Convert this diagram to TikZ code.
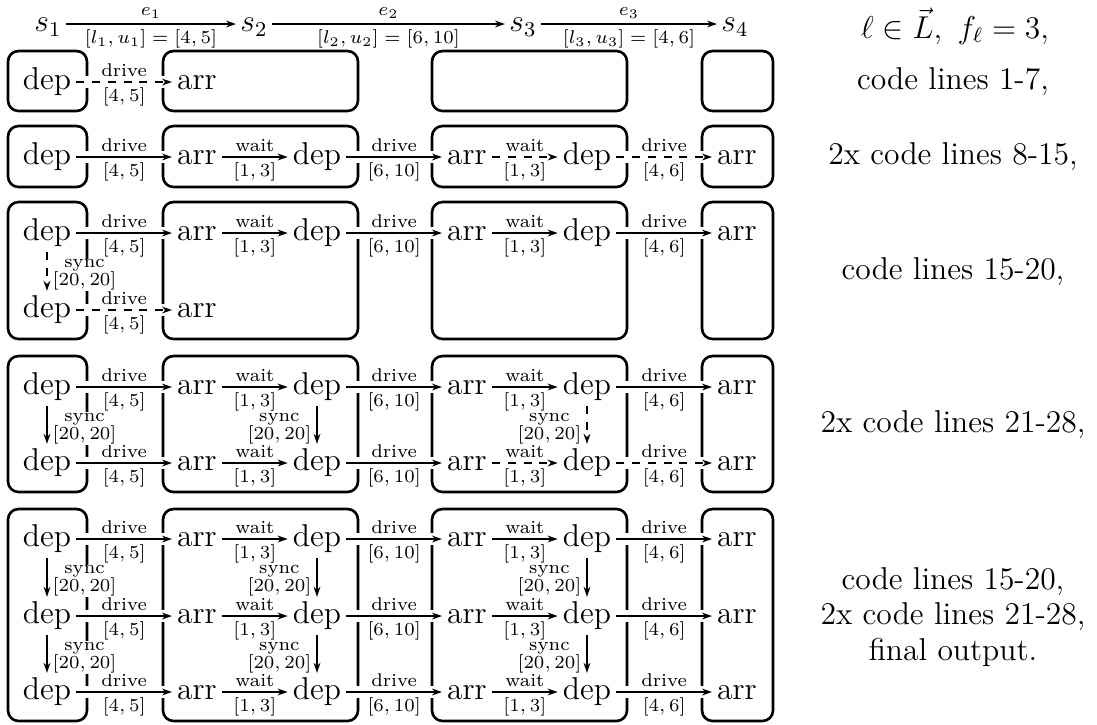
\documentclass[tikz,border=0pt]{standalone}
\usetikzlibrary{positioning, arrows.meta}

\tikzset{
  ev/.style={font=\large, inner sep=1.8pt, text height=8.3pt, text depth=2.3pt},
  stn/.style={font=\large, inner sep=1.5pt, text height=8.3pt, text depth=2.3pt},
  lanebox/.style={draw, line width=1pt, rounded corners=4pt},
  go/.style={-{Stealth[length=3.8pt,width=2.6pt]}, line width=0.75pt,
    preaction={draw=white, solid, line width=4.2pt, -}},
  edgelbl/.style={font=\scriptsize, inner sep=1.8pt},
  synclbl/.style={font=\scriptsize, fill=white, align=center, inner sep=0.3pt, yshift=-1.3pt},
  note/.style={font=\large, align=center},
}

\newcommand{\lanehop}[5][]{\draw[go,#1] (#2) -- node[edgelbl,above]{#4} node[edgelbl,below]{$#5$} (#3);}
\newcommand{\fullchain}[1]{%
  \lanehop{dA#1}{aB#1}{drive}{[4,5]}
  \lanehop{aB#1}{dB#1}{wait}{[1,3]}
  \lanehop{dB#1}{aC#1}{drive}{[6,10]}
  \lanehop{aC#1}{dC#1}{wait}{[1,3]}
  \lanehop{dC#1}{aD#1}{drive}{[4,6]}}
\newcommand{\syncdown}[4][]{\draw[go,#1] (#2) -- node[synclbl,#4=1.5pt]{sync\\[-1.2pt]$[20,20]$} (#3);}

\begin{document}
\begin{tikzpicture}[x=0.38pt, y=-0.38pt]
  \useasboundingbox (0,0) rectangle (1097,724);

  % lane boxes, one row of boxes per step
  \foreach \t/\b in {51/111, 126/187, 202/339, 356/492, 509/721} {
    \draw[lanebox] (8,\t) rectangle (87,\b);
    \draw[lanebox] (163,\t) rectangle (358,\b);
    \draw[lanebox] (432,\t) rectangle (627,\b);
    \draw[lanebox] (702,\t) rectangle (773,\b);
  }

  % stations on top
  \node[stn] (s1) at (48,24) {$s_1$};
  \node[stn] (s2) at (254,24) {$s_2$};
  \node[stn] (s3) at (523,24) {$s_3$};
  \node[stn] (s4) at (735,24) {$s_4$};
  \draw[go] (s1) -- node[edgelbl,above]{$e_1$} node[edgelbl,below]{$[l_1,u_1]=[4,5]$} (s2);
  \draw[go] (s2) -- node[edgelbl,above]{$e_2$} node[edgelbl,below]{$[l_2,u_2]=[6,10]$} (s3);
  \draw[go] (s3) -- node[edgelbl,above]{$e_3$} node[edgelbl,below]{$[l_3,u_3]=[4,6]$} (s4);

  % events
  \foreach \k/\y in {1/82, 4/310} {
    \node[ev] (dA\k) at (47,\y) {dep};
    \node[ev] (aB\k) at (197,\y) {arr};
  }
  \foreach \k/\y in {2/157, 3/233, 5/387, 6/463, 7/539, 8/616, 9/692} {
    \node[ev] (dA\k) at (47,\y) {dep};
    \node[ev] (aB\k) at (197,\y) {arr};
    \node[ev] (dB\k) at (317,\y) {dep};
    \node[ev] (aC\k) at (467,\y) {arr};
    \node[ev] (dC\k) at (587,\y) {dep};
    \node[ev] (aD\k) at (737,\y) {arr};
  }

  % arcs
  \lanehop[dashed]{dA1}{aB1}{drive}{[4,5]}

  \lanehop{dA2}{aB2}{drive}{[4,5]}
  \lanehop{aB2}{dB2}{wait}{[1,3]}
  \lanehop{dB2}{aC2}{drive}{[6,10]}
  \lanehop[dashed]{aC2}{dC2}{wait}{[1,3]}
  \lanehop[dashed]{dC2}{aD2}{drive}{[4,6]}

  \fullchain{3}
  \lanehop[dashed]{dA4}{aB4}{drive}{[4,5]}
  \syncdown[dashed]{dA3}{dA4}{right}

  \fullchain{5}
  \lanehop{dA6}{aB6}{drive}{[4,5]}
  \lanehop{aB6}{dB6}{wait}{[1,3]}
  \lanehop{dB6}{aC6}{drive}{[6,10]}
  \lanehop[dashed]{aC6}{dC6}{wait}{[1,3]}
  \lanehop[dashed]{dC6}{aD6}{drive}{[4,6]}
  \syncdown{dA5}{dA6}{right}
  \syncdown{dB5}{dB6}{left}
  \syncdown[dashed]{dC5}{dC6}{left}

  \fullchain{7}
  \fullchain{8}
  \fullchain{9}
  \syncdown{dA7}{dA8}{right}
  \syncdown{dB7}{dB8}{left}
  \syncdown{dC7}{dC8}{left}
  \syncdown{dA8}{dA9}{right}
  \syncdown{dB8}{dB9}{left}
  \syncdown{dC8}{dC9}{left}

  % what each step runs
  \node[note] (hdr) at (955,26) {$\ell\in\vec{L},\ f_\ell=3,$};
  \node[note] (t1) at (953,82) {code lines 1-7,};
  \node[note] (t2) at (953,157) {2x code lines 8-15,};
  \node[note] (t3) at (953,272) {code lines 15-20,};
  \node[note] (t4) at (953,425) {2x code lines 21-28,};
  \node[note] (t5) at (953,617) {code lines 15-20,\\[-0.6pt]2x code lines 21-28,\\[-0.6pt]final output.};
\end{tikzpicture}
\end{document}
